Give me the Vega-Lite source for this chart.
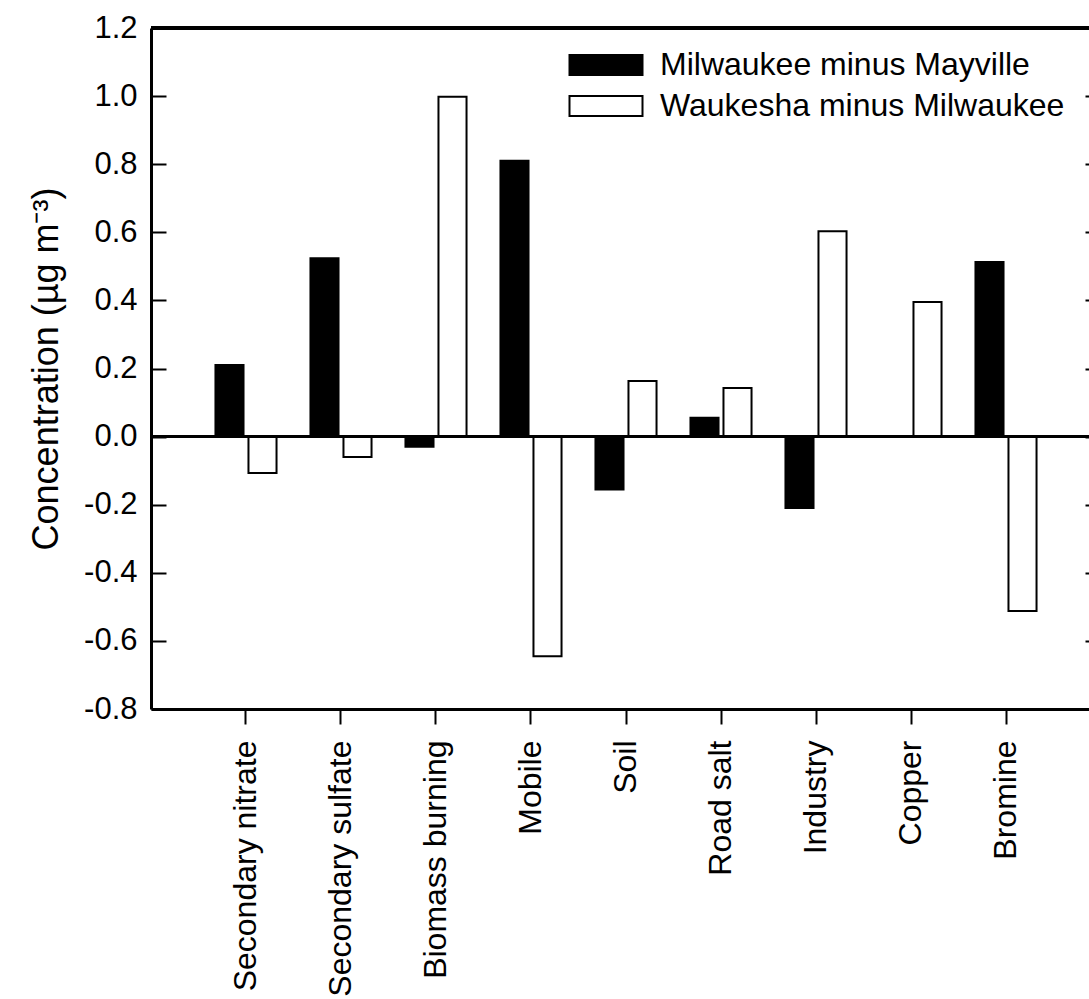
{
  "$schema": "https://vega.github.io/schema/vega-lite/v6.json",
  "width": 938,
  "height": 681,
  "autosize": "none",
  "padding": {"left": 151, "top": 28, "right": 0, "bottom": 290},
  "background": "white",
  "config": {
    "view": {"stroke": null},
    "font": "Liberation Sans",
    "axis": {"labelColor": "black", "titleColor": "black", "domainColor": "black", "tickColor": "black", "grid": false}
  },
  "data": {
    "values": [
      {"source": "Secondary nitrate", "series": "Milwaukee minus Mayville", "value": 0.21},
      {"source": "Secondary nitrate", "series": "Waukesha minus Milwaukee", "value": -0.107},
      {"source": "Secondary sulfate", "series": "Milwaukee minus Mayville", "value": 0.524},
      {"source": "Secondary sulfate", "series": "Waukesha minus Milwaukee", "value": -0.06},
      {"source": "Biomass burning", "series": "Milwaukee minus Mayville", "value": -0.03},
      {"source": "Biomass burning", "series": "Waukesha minus Milwaukee", "value": 0.998},
      {"source": "Mobile", "series": "Milwaukee minus Mayville", "value": 0.81},
      {"source": "Mobile", "series": "Waukesha minus Milwaukee", "value": -0.645},
      {"source": "Soil", "series": "Milwaukee minus Mayville", "value": -0.155},
      {"source": "Soil", "series": "Waukesha minus Milwaukee", "value": 0.163},
      {"source": "Road salt", "series": "Milwaukee minus Mayville", "value": 0.055},
      {"source": "Road salt", "series": "Waukesha minus Milwaukee", "value": 0.143},
      {"source": "Industry", "series": "Milwaukee minus Mayville", "value": -0.21},
      {"source": "Industry", "series": "Waukesha minus Milwaukee", "value": 0.603},
      {"source": "Copper", "series": "Waukesha minus Milwaukee", "value": 0.395},
      {"source": "Bromine", "series": "Milwaukee minus Mayville", "value": 0.513},
      {"source": "Bromine", "series": "Waukesha minus Milwaukee", "value": -0.512}
    ]
  },
  "layer": [
    {
      "mark": {"type": "bar", "stroke": "black", "strokeWidth": 2},
      "encoding": {
        "x": {
          "field": "source",
          "type": "nominal",
          "sort": ["Secondary nitrate", "Secondary sulfate", "Biomass burning", "Mobile", "Soil", "Road salt", "Industry", "Copper", "Bromine"],
          "scale": {"paddingInner": 0, "paddingOuter": 0.4368, "align": 0.5723},
          "axis": {
            "orient": "bottom",
            "title": null,
            "labelAngle": -90,
            "labelAlign": "right",
            "labelBaseline": "middle",
            "labelFontSize": 32,
            "labelPadding": 16,
            "labelLimit": 0,
            "tickSize": 15,
            "tickWidth": 2,
            "domainWidth": 3
          }
        },
        "xOffset": {
          "field": "series",
          "type": "nominal",
          "scale": {"domain": ["Milwaukee minus Mayville", "Waukesha minus Milwaukee"], "paddingInner": 0.15, "paddingOuter": 0.514}
        },
        "y": {
          "field": "value",
          "type": "quantitative",
          "scale": {"domain": [-0.8, 1.2], "nice": false, "zero": false},
          "axis": {
            "orient": "left",
            "values": [-0.8, -0.6, -0.4, -0.2, 0, 0.2, 0.4, 0.6, 0.8, 1.0, 1.2],
            "labelExpr": "replace(format(datum.value, '.1f'), '−', '-')",
            "labelFontSize": 31,
            "labelPadding": 29,
            "tickSize": -15,
            "tickWidth": 2,
            "domainWidth": 3,
            "title": "Concentration (µg m⁻³)",
            "titleFontSize": 36,
            "titleFontWeight": "normal",
            "titlePadding": 18
          }
        },
        "fill": {
          "field": "series",
          "type": "nominal",
          "scale": {"domain": ["Milwaukee minus Mayville", "Waukesha minus Milwaukee"], "range": ["black", "white"]},
          "legend": {
            "orient": "none",
            "legendX": 439,
            "legendY": 21,
            "title": null,
            "padding": 0,
            "symbolType": "M-3.65,-1H3.65V1H-3.65Z",
            "symbolSize": 400,
            "symbolStrokeColor": "black",
            "symbolStrokeWidth": 2,
            "labelFontSize": 32,
            "labelColor": "black",
            "labelOffset": 38,
            "rowPadding": 9,
            "labelLimit": 600
          }
        }
      }
    },
    {
      "mark": {"type": "rule", "color": "black", "strokeWidth": 1.5},
      "encoding": {
        "y": {
          "datum": 0,
          "type": "quantitative",
          "axis": {
            "orient": "right",
            "values": [-0.8, -0.6, -0.4, -0.2, 0, 0.2, 0.4, 0.6, 0.8, 1.0, 1.2],
            "labels": false,
            "domain": false,
            "tickSize": -4,
            "tickWidth": 2,
            "title": null
          }
        }
      }
    },
    {
      "mark": {"type": "rule", "color": "black", "strokeWidth": 3},
      "encoding": {
        "y": {"datum": 1.2, "type": "quantitative", "axis": null}
      }
    }
  ],
  "resolve": {"axis": {"y": "independent"}}
}
